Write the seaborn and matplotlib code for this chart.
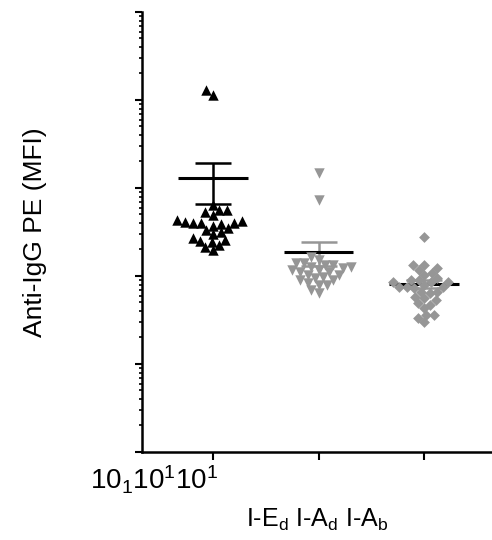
import seaborn as sns
import matplotlib.pyplot as plt
import pandas as pd
from matplotlib.ticker import LogLocator, NullFormatter

# Werte (MFI)
groups = ['I-Ed', 'I-Ad', 'I-Ab']
ied = [13000, 11500, 641, 562, 560, 534, 493, 433, 422, 411, 405, 400, 395,
       390, 370, 351, 333, 316, 300, 270, 257, 250, 243, 225, 214, 197]
iad = [1480, 731, 164, 152, 141, 141, 133, 133, 127, 127, 123, 117, 117, 111,
       111, 103, 103, 97, 95, 90, 90, 83, 79, 79, 69, 64]
iab = [277, 133, 133, 123, 117, 108, 103, 95, 90, 85, 90, 85, 85, 79, 75, 75,
       75, 73, 64, 66, 66, 58, 56, 53, 49, 47, 43, 36, 36, 33, 30]
markers = ['^', 'v', 'D']
swarm_sizes = [5.6, 5.6, 5.2]   # fuer die Anordnung (Punkte ueberlappen etwas)
draw_sizes = [7.5, 7.5, 5.5]    # tatsaechliche Markergroesse
colors = ['black', '#969696', '#969696']

df = pd.concat([
    pd.DataFrame({'group': g, 'mfi': v}) for g, v in zip(groups, [ied, iad, iab])
], ignore_index=True)

sns.set_style('ticks', {'axes.edgecolor': 'black', 'text.color': 'black',
                        'axes.labelcolor': 'black', 'xtick.color': 'black',
                        'ytick.color': 'black'})
plt.rcParams['font.family'] = ['Liberation Sans', 'DejaVu Sans']
plt.rcParams['mathtext.default'] = 'regular'

fig = plt.figure(figsize=(4.92, 5.40), dpi=100)
ax = fig.add_axes([0.2886, 0.163, 0.7114, 0.8148])
ax.set_yscale('log')

# Punkte
for g, m, s, c in zip(groups, markers, swarm_sizes, colors):
    sns.swarmplot(data=df[df['group'] == g], x='group', y='mfi', order=groups,
                  marker=m, size=s, color=c, linewidth=0, zorder=3, ax=ax)

# Mittelwert +/- SEM
stats = df.groupby('group', sort=False)['mfi'].agg(['mean', 'sem']).reindex(groups)
for i, (g, row) in enumerate(stats.iterrows()):
    lo, hi = row['mean'] - row['sem'], row['mean'] + row['sem']
    ax.vlines(i, lo, hi, color=colors[i], lw=1.8, zorder=1)
    ax.hlines([lo, hi], i - 0.17, i + 0.17, color=colors[i], lw=1.8, zorder=1)
    ax.hlines(row['mean'], i - 0.33, i + 0.33, color='black', lw=2.2, zorder=2)

ax.set_ylim(1, 1e5)
ax.set_xlim(-0.67, 2.64)
ax.yaxis.set_major_locator(LogLocator(base=10, numticks=10))
ax.yaxis.set_minor_locator(LogLocator(base=10, subs=range(2, 10), numticks=20))
ax.yaxis.set_major_formatter(NullFormatter())
ax.yaxis.set_minor_formatter(NullFormatter())
ax.set_xticks([0, 1, 2])
ax.set_xticklabels([])

sns.despine(ax=ax)
for sp in ['left', 'bottom']:
    ax.spines[sp].set_linewidth(1.8)
ax.tick_params(axis='y', which='major', length=5, width=1.5, direction='out')
ax.tick_params(axis='y', which='minor', length=2.5, width=1.2, direction='out')
ax.tick_params(axis='x', length=6, width=1.5, direction='out')

ax.set_ylabel('Anti-IgG PE (MFI)', fontsize=19)
ax.yaxis.set_label_coords(-0.272, 0.5)
ax.set_xlabel('I-E$_d$ I-A$_d$ I-A$_b$', fontsize=18)
ax.xaxis.set_label_coords(0.5, -0.125)

fig.text(90 / 492, 50 / 540, '10$_1$10$^1$10$^1$', fontsize=20,
         ha='left', va='baseline')

# Schwarm einmal berechnen, dann Marker vergroessern ohne neue Anordnung
fig.canvas.draw()
k = 0
for coll in ax.collections:
    if coll.get_zorder() == 3 and coll.get_offsets().shape[0] > 2:
        if 'draw' in coll.__dict__:
            del coll.draw
        coll.set_sizes([draw_sizes[k] ** 2])
        k += 1

plt.savefig('out.png', dpi=100)
